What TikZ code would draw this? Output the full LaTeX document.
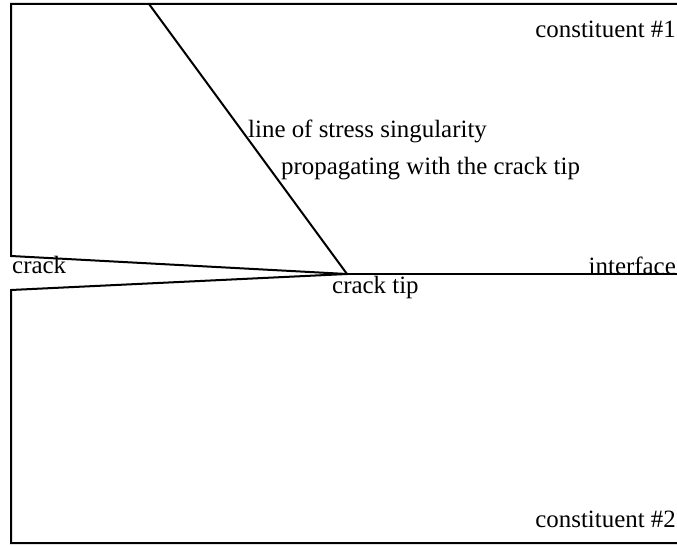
\documentclass[tikz,border=0pt]{standalone}
\usepackage{fontspec}
\setmainfont{Liberation Serif}
\begin{document}
\begin{tikzpicture}[x=1bp,y=-1bp,
  edge/.style={line width=2bp,line join=miter},
  lbl/.style={inner sep=0pt,font=\fontsize{25}{30}\selectfont}]
\useasboundingbox (0,0) rectangle (677,546);
% geometry
\coordinate (tl) at (11,4);
\coordinate (tr) at (677,4);
\coordinate (cu) at (11,256);
\coordinate (cl) at (11,290);
\coordinate (tip) at (347,274);
\coordinate (ir) at (677,274);
\coordinate (bl) at (11,543);
\coordinate (br) at (677,543);
\coordinate (ds) at (149,4);
\draw[edge] (tr) -- (tl) -- (cu) -- (tip) -- (cl) -- (bl) -- (br);
\draw[edge] (tip) -- (ir);
\draw[edge] (ds) -- (tip);
% labels
\node[lbl,anchor=base east] (c1) at (676,38) {constituent \#1};
\node[lbl,anchor=base west] (ls1) at (248,138) {line of stress singularity};
\node[lbl,anchor=base west] (ls2) at (281,175) {propagating with the crack tip};
\node[lbl,anchor=base west] (crk) at (12,273) {crack};
\node[lbl,anchor=base west] (ctip) at (332,293) {crack tip};
\node[lbl,anchor=base east] (intf) at (676,274) {interface};
\node[lbl,anchor=base east] (c2) at (676,527) {constituent \#2};
\end{tikzpicture}
\end{document}
